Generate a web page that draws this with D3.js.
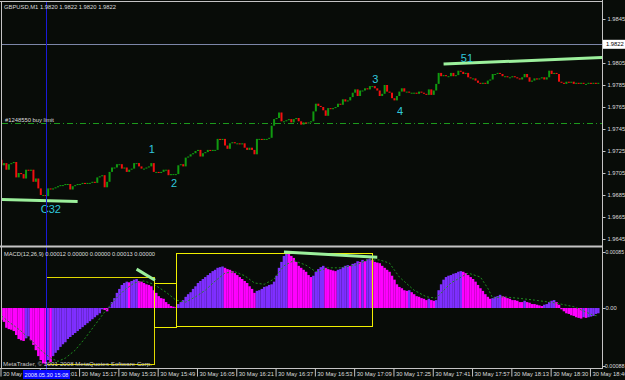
<!DOCTYPE html>
<html><head><meta charset="utf-8">
<script src="https://cdn.jsdelivr.net/npm/d3@7"></script>
<style>
html,body{margin:0;padding:0;background:#080c08;}
svg{display:block;}
</style></head><body>
<svg id="c" width="625" height="380"></svg>
<script>
// ---------------- DATA ----------------
const firstOpen = 1.9717;
const closes = [
1.9712,1.9714,1.9708,1.9713,1.9714,1.9715,1.9701,1.9705,1.9704,1.9700,
1.9708,1.9707,1.9708,1.9697,1.9700,1.9691,1.9685,1.9685,1.9684,1.9691,
1.9690,1.9691,1.9692,1.9693,1.9694,1.9694,1.9695,1.9695,1.9690,1.9693,
1.9694,1.9695,1.9695,1.9696,1.9695,1.9696,1.9696,1.9697,1.9696,1.9701,
1.9702,1.9703,1.9692,1.9697,1.9706,1.9710,1.9710,1.9713,1.9713,1.9709,
1.9710,1.9706,1.9708,1.9709,1.9714,1.9714,1.9711,1.9709,1.9709,1.9710,
1.9711,1.9714,1.9706,1.9706,1.9705,1.9706,1.9708,1.9708,1.9703,1.9704,
1.9704,1.9704,1.9712,1.9713,1.9711,1.9719,1.9720,1.9722,1.9723,1.9725,
1.9726,1.9720,1.9723,1.9724,1.9726,1.9725,1.9726,1.9726,1.9736,1.9735,
1.9736,1.9730,1.9727,1.9732,1.9733,1.9732,1.9732,1.9731,1.9732,1.9728,
1.9726,1.9728,1.9726,1.9722,1.9736,1.9736,1.9735,1.9736,1.9736,1.9737,
1.9748,1.9754,1.9755,1.9760,1.9752,1.9752,1.9753,1.9754,1.9751,1.9754,
1.9755,1.9752,1.9749,1.9751,1.9750,1.9751,1.9752,1.9761,1.9768,1.9766,
1.9765,1.9762,1.9757,1.9764,1.9763,1.9764,1.9765,1.9768,1.9767,1.9772,
1.9770,1.9771,1.9774,1.9778,1.9781,1.9775,1.9780,1.9780,1.9782,1.9781,
1.9784,1.9784,1.9782,1.9780,1.9775,1.9777,1.9785,1.9779,1.9778,1.9773,
1.9771,1.9775,1.9779,1.9782,1.9779,1.9779,1.9778,1.9778,1.9778,1.9777,
1.9779,1.9778,1.9777,1.9776,1.9781,1.9776,1.9780,1.9786,1.9796,1.9793,
1.9794,1.9793,1.9793,1.9796,1.9793,1.9794,1.9798,1.9797,1.9795,1.9796,
1.9792,1.9791,1.9791,1.9789,1.9787,1.9786,1.9787,1.9786,1.9789,1.9790,
1.9795,1.9795,1.9796,1.9795,1.9793,1.9793,1.9792,1.9792,1.9793,1.9792,
1.9791,1.9790,1.9792,1.9795,1.9792,1.9788,1.9789,1.9791,1.9790,1.9791,
1.9792,1.9790,1.9792,1.9798,1.9795,1.9796,1.9795,1.9788,1.9787,1.9786,
1.9788,1.9787,1.9788,1.9786,1.9787,1.9786,1.9787,1.9786,1.9786,1.9787,
1.9786,1.9787,1.9786,1.9787
];
const macdMain = [
-0.00018,-0.00021,-0.00030,-0.00032,-0.00033,-0.00035,-0.00041,-0.00047,-0.00049,-0.00050,
-0.00046,-0.00043,-0.00049,-0.00056,-0.00064,-0.00073,-0.00079,-0.00084,-0.00085,-0.00079,
-0.00082,-0.00073,-0.00068,-0.00064,-0.00059,-0.00055,-0.00052,-0.00047,-0.00044,-0.00041,
-0.00038,-0.00035,-0.00032,-0.00029,-0.00026,-0.00023,-0.00020,-0.00017,-0.00014,-0.00011,
-0.00008,-0.00002,-0.00003,-0.00005,0.00001,0.00009,0.00015,0.00023,0.00029,0.00035,
0.00038,0.00040,0.00039,0.00041,0.00043,0.00044,0.00041,0.00040,0.00038,0.00036,
0.00035,0.00033,0.00027,0.00023,0.00018,0.00015,0.00014,0.00009,0.00006,0.00003,
0.00002,0.00001,0.00006,0.00009,0.00012,0.00017,0.00021,0.00024,0.00029,0.00033,
0.00038,0.00041,0.00044,0.00047,0.00050,0.00053,0.00056,0.00058,0.00061,0.00062,
0.00063,0.00061,0.00059,0.00058,0.00056,0.00053,0.00050,0.00047,0.00044,0.00041,
0.00038,0.00033,0.00029,0.00023,0.00026,0.00027,0.00029,0.00032,0.00033,0.00035,
0.00036,0.00040,0.00049,0.00061,0.00070,0.00079,0.00084,0.00082,0.00079,0.00076,
0.00070,0.00064,0.00061,0.00058,0.00055,0.00050,0.00047,0.00049,0.00055,0.00059,
0.00062,0.00064,0.00061,0.00059,0.00058,0.00057,0.00056,0.00058,0.00059,0.00062,
0.00064,0.00065,0.00064,0.00067,0.00068,0.00071,0.00070,0.00073,0.00071,0.00074,
0.00075,0.00073,0.00070,0.00069,0.00068,0.00064,0.00061,0.00058,0.00055,0.00049,
0.00043,0.00036,0.00032,0.00030,0.00027,0.00026,0.00027,0.00024,0.00021,0.00018,
0.00017,0.00015,0.00014,0.00012,0.00014,0.00012,0.00011,0.00012,0.00027,0.00036,
0.00043,0.00047,0.00049,0.00050,0.00052,0.00053,0.00055,0.00056,0.00055,0.00053,
0.00050,0.00047,0.00044,0.00040,0.00035,0.00030,0.00026,0.00021,0.00017,0.00014,
0.00015,0.00017,0.00018,0.00020,0.00018,0.00017,0.00015,0.00014,0.00012,0.00012,
0.00011,0.00009,0.00009,0.00011,0.00009,0.00008,0.00006,0.00006,0.00005,0.00004,
0.00003,0.00005,0.00006,0.00009,0.00011,0.00012,0.00009,0.00005,-0.00002,-0.00005,
-0.00008,-0.00009,-0.00011,-0.00012,-0.00014,-0.00015,-0.00016,-0.00014,-0.00015,-0.00014,
-0.00013,-0.00012,-0.00009,-0.00008
];
const signalBars = [0,3,8,12,16,20,23,26,30,34,38,42,46,50,54,58,62,67,71,75,79,83,87,91,95,99,103,107,111,115,119,124,128,133,138,144,149,154,158,162,168,173,177,183,190,195,198,200,204,210,217,225,233,241,243];
const signalValues = [-0.00012,-0.00021,-0.00035,-0.00049,-0.00064,-0.00076,-0.00081,-0.00076,-0.00064,-0.00046,
-0.00026,-0.00006,0.00012,0.00027,0.00038,0.00041,0.00036,0.00024,0.00012,0.00009,
0.00017,0.00027,0.00041,0.00053,0.00055,0.00049,0.00038,0.00036,0.00044,0.00064,
0.00072,0.00065,0.00055,0.00061,0.00061,0.00065,0.00073,0.00073,0.00068,0.00047,
0.00027,0.00017,0.00015,0.00038,0.00053,0.00047,0.00030,0.00015,0.00017,0.00015,
0.00012,0.00008,0.00002,-0.00011,-0.00012];

const timeTickBars = [0,16,32,48,64,80,96,112,128,144,160,176,192,208,224,240];
const timeTickLabels = ["30 May 14:45","30 May 15:01","30 May 15:17","30 May 15:33","30 May 15:49","30 May 16:05","30 May 16:21","30 May 16:37","30 May 16:53","30 May 17:09","30 May 17:25","30 May 17:41","30 May 17:57","30 May 18:13","30 May 18:30","30 May 18:46"];
const priceTicks = [1.9845,1.9805,1.9785,1.9765,1.9745,1.9725,1.9705,1.9685,1.9665,1.9645];
const macdTicks = [0.00085,0,-0.00088];
const macdTickLabels = ["0.00085","0.00","-0.00088"];

const bidPrice = 1.9822;
const buyLimitPrice = 1.9750;
const vlineBar = 18;
const vlineLabel = "2008.05.30 15:08";

const waveText = ["C32","1","2","3","4","51"];
const waveBar = [16,60,69,151,161,187];
const wavePrice = [1.9669,1.9723,1.9692,1.9787,1.9758,1.9806];

const trendBarsA = [0,31],   trendPricesA = [1.9681,1.9679];
const trendBarsB = [180,245], trendPricesB = [1.9804,1.9810];
const macdTrendBarsA = [55,62.5], macdTrendValuesA = [0.00059,0.00042];
const macdTrendBarsB = [115,153], macdTrendValuesB = [0.00085,0.00077];

const rectBarStart = [18,62,71], rectBarEnd = [62,71,151];
const rectTop = [0.00047,0.00038,0.00084], rectBottom = [-0.00085,-0.00029,-0.00027];

const titleText = "GBPUSD,M1  1.9820 1.9822 1.9820 1.9822";
const macdLabel = "MACD(12,26,9) 0.00012 0.00000 0.00000 0.00013 0.00000";
const orderLabel = "#1248550 buy limit";
const copyright = "MetaTrader, \u00A9 2001-2008 MetaQuotes Software Corp.";

// ---------------- CHART ----------------
const FONT = "'Liberation Sans', Arial, sans-serif";
const svg = d3.select("#c");
svg.append("rect").attr("width",625).attr("height",380).attr("fill","#080c08");

const x = d3.scaleLinear().domain([0,243]).range([1.5, 1.5+243*2.456]);
const yP = d3.scaleLinear().domain([1.9645,1.9845]).range([239,19]);
const yM = d3.scaleLinear().domain([-0.00088,0.00085]).range([366,252]);

const defs = svg.append("defs");
defs.append("clipPath").attr("id","cpMain").append("rect").attr("x",2).attr("y",2).attr("width",600).attr("height",243);
defs.append("clipPath").attr("id","cpMacd").append("rect").attr("x",2).attr("y",248).attr("width",600).attr("height",120);

const gMain = svg.append("g").attr("clip-path","url(#cpMain)");
const gMacd = svg.append("g").attr("clip-path","url(#cpMacd)");

// buy limit line
gMain.append("line").attr("x1",2).attr("x2",602)
  .attr("y1",Math.round(yP(buyLimitPrice))+0.5).attr("y2",Math.round(yP(buyLimitPrice))+0.5)
  .attr("stroke","#1c9a1c").attr("stroke-dasharray","6,3,1,3");
// bid line
gMain.append("line").attr("x1",2).attr("x2",602)
  .attr("y1",Math.round(yP(bidPrice))+0.5).attr("y2",Math.round(yP(bidPrice))+0.5)
  .attr("stroke","#7c86a8");

// candles
const opens = closes.map((c,i)=> i===0 ? firstOpen : closes[i-1]);
gMain.selectAll("rect.candle").data(closes).join("rect").attr("class","candle")
  .attr("x",(d,i)=>x(i)-1).attr("width",2)
  .attr("y",(d,i)=>Math.min(yP(d),yP(opens[i])))
  .attr("height",(d,i)=>Math.max(1,Math.abs(yP(d)-yP(opens[i]))))
  .attr("fill",(d,i)=> d>=opens[i] ? "#109a10" : "#f01010");

// trendlines main
const tl = (bars, vals, ys)=> d3.line().x(d=>x(d[0])).y(d=>ys(d[1]))(d3.zip(bars, vals));
gMain.append("path").attr("d",tl(trendBarsA,trendPricesA,yP)).attr("stroke","#9cf09c").attr("stroke-width",3).attr("fill","none");
gMain.append("path").attr("d",tl(trendBarsB,trendPricesB,yP)).attr("stroke","#9cf09c").attr("stroke-width",3).attr("fill","none");

// wave labels
gMain.selectAll("text.wave").data(waveText).join("text").attr("class","wave")
  .attr("x",(d,i)=>x(waveBar[i])).attr("y",(d,i)=>yP(wavePrice[i]))
  .attr("fill","#30c8dc").attr("font-size",11).attr("font-family",FONT).text(d=>d);

// MACD histogram
const magenta = "#ff00ff", violet = "#7f2fff";
gMacd.selectAll("rect.h").data(macdMain).join("rect").attr("class","h")
  .attr("x",(d,i)=>x(i)-1.25).attr("width",2.5)
  .attr("y",d=>Math.min(yM(d),yM(0))).attr("height",d=>Math.abs(yM(d)-yM(0)))
  .attr("fill",(d,i)=> (i>0 && d>macdMain[i-1]) ? violet : magenta);

// signal line
gMacd.append("path").attr("d", d3.line().x(d=>x(d[0])).y(d=>yM(d[1]))(d3.zip(signalBars,signalValues)))
  .attr("fill","none").attr("stroke","#1e8c1e").attr("stroke-width",1).attr("stroke-dasharray","2,2");

// yellow rectangles
gMacd.selectAll("rect.box").data(rectBarStart).join("rect").attr("class","box")
  .attr("x",(d,i)=>Math.round(x(d))+0.5)
  .attr("y",(d,i)=>Math.round(yM(rectTop[i]))+0.5)
  .attr("width",(d,i)=>Math.round(x(rectBarEnd[i]))-Math.round(x(d)))
  .attr("height",(d,i)=>Math.round(yM(rectBottom[i]))-Math.round(yM(rectTop[i])))
  .attr("fill","none").attr("stroke",(d,i)=> i===0 ? "#e0d800" : "#f0f000").attr("stroke-width",1);

// macd trendlines
gMacd.append("path").attr("d",tl(macdTrendBarsA,macdTrendValuesA,yM)).attr("stroke","#9cf09c").attr("stroke-width",3).attr("fill","none");
gMacd.append("path").attr("d",tl(macdTrendBarsB,macdTrendValuesB,yM)).attr("stroke","#9cf09c").attr("stroke-width",3).attr("fill","none");

// vertical blue line
svg.append("line").attr("x1",Math.round(x(vlineBar))+0.5).attr("x2",Math.round(x(vlineBar))+0.5)
  .attr("y1",1).attr("y2",370).attr("stroke","#1a1ad8");

// frame lines
const frame = svg.append("g").attr("stroke","#c4c4c4").attr("fill","none");
frame.append("line").attr("x1",0).attr("x2",602).attr("y1",1.5).attr("y2",1.5);
frame.append("line").attr("x1",1.5).attr("x2",1.5).attr("y1",1).attr("y2",368);
frame.append("line").attr("x1",602.5).attr("x2",602.5).attr("y1",0).attr("y2",369);
frame.append("line").attr("x1",0).attr("x2",602).attr("y1",246.5).attr("y2",246.5).attr("stroke-width",2);
frame.append("line").attr("x1",0).attr("x2",602).attr("y1",368.5).attr("y2",368.5);

// texts
const txt = (s, tx, ty, len)=> svg.append("text").attr("x",tx).attr("y",ty).attr("fill","#dcdcdc")
  .attr("font-size",6.2).attr("font-family",FONT).attr("textLength",len).attr("lengthAdjust","spacingAndGlyphs").text(s);
txt(titleText, 4, 8.8, 112);
txt(orderLabel, 5, 122.3, 49);
txt(macdLabel, 4, 256.3, 151);
txt(copyright, 3, 366, 149).attr("fill","#c8c8c8");

// price axis
const pAxis = d3.axisRight(yP).tickValues(priceTicks).tickSize(3).tickPadding(2).tickFormat(d3.format(".4f"));
const gPA = svg.append("g").attr("transform","translate(602.5,0)").call(pAxis)
  .attr("font-size",5.8).attr("font-family",FONT);
gPA.select(".domain").remove();
gPA.selectAll(".tick line").attr("stroke","#c4c4c4");
gPA.selectAll(".tick text").attr("fill","#dcdcdc");

// bid label box
svg.append("rect").attr("x",603).attr("y",yP(bidPrice)-4.5).attr("width",22).attr("height",9).attr("fill","#ffffff");
svg.append("text").attr("x",606).attr("y",yP(bidPrice)+2).attr("font-size",5.8).attr("font-family",FONT)
  .attr("fill","#000").text(d3.format(".4f")(bidPrice));

// macd axis
const mAxis = d3.axisRight(yM).tickValues(macdTicks).tickSize(3).tickPadding(2).tickFormat((d,i)=>macdTickLabels[i]);
const gMA = svg.append("g").attr("transform","translate(602.5,0)").call(mAxis)
  .attr("font-size",5.8).attr("font-family",FONT);
gMA.select(".domain").remove();
gMA.selectAll(".tick line").attr("stroke","#c4c4c4");
gMA.selectAll(".tick text").attr("fill","#dcdcdc")
  .attr("x",d=> d<0 ? 0.5 : 3)
  .attr("textLength",d=> d<0 ? 21.5 : (d>0 ? 18.5 : null))
  .attr("lengthAdjust","spacingAndGlyphs");

// time axis
const tAxis = d3.axisBottom(x).tickValues(timeTickBars).tickSize(8).tickFormat((d,i)=>timeTickLabels[i]);
const gTA = svg.append("g").attr("transform","translate(-1,368.5)").call(tAxis)
  .attr("font-size",5.8).attr("font-family",FONT);
gTA.select(".domain").remove();
gTA.selectAll(".tick line").attr("stroke","#c4c4c4");
gTA.selectAll(".tick text").attr("fill","#dcdcdc").attr("text-anchor","start").attr("x",2).attr("y",3.5).attr("dy","0.71em");

// vline time box
const vx = Math.round(x(vlineBar))+0.5;
svg.append("rect").attr("x",vx-23.5).attr("y",370).attr("width",47).attr("height",9).attr("fill","#0a0aff");
svg.append("text").attr("x",vx).attr("y",377).attr("text-anchor","middle").attr("fill","#e8e8ff")
  .attr("font-size",5.8).attr("font-family",FONT).attr("textLength",44).attr("lengthAdjust","spacingAndGlyphs").text(vlineLabel);
</script>
</body></html>
